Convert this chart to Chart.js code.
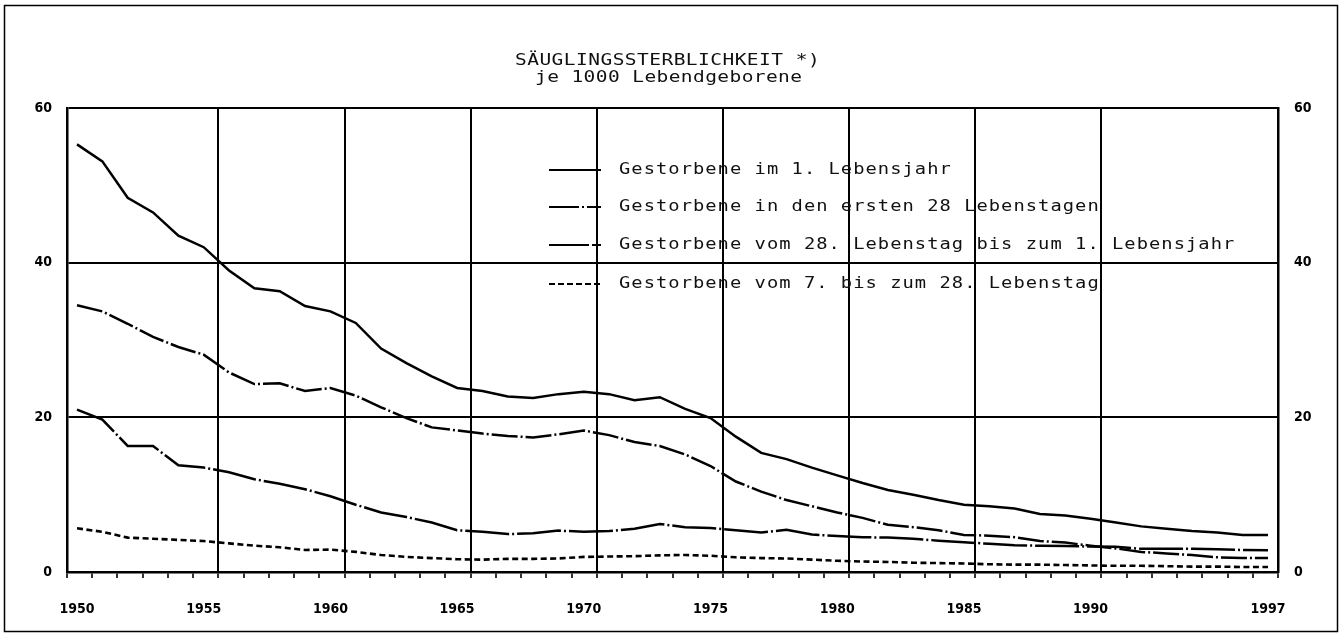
<!DOCTYPE html>
<html>
<head>
<meta charset="utf-8">
<script src="https://cdn.jsdelivr.net/npm/chart.js@4.4.1/dist/chart.umd.min.js"></script>
<style>
html,body{margin:0;padding:0;background:#fff;}
#wrap{width:1342px;height:640px;}
</style>
</head>
<body>
<div id="wrap"><canvas id="c" width="1342" height="640"></canvas></div>
<script>
// ---------- DATA ----------
const titleLines = ["SÄUGLINGSSTERBLICHKEIT *)", "je 1000 Lebendgeborene"];

const years = [1950,1951,1952,1953,1954,1955,1956,1957,1958,1959,
               1960,1961,1962,1963,1964,1965,1966,1967,1968,1969,
               1970,1971,1972,1973,1974,1975,1976,1977,1978,1979,
               1980,1981,1982,1983,1984,1985,1986,1987,1988,1989,
               1990,1991,1992,1993,1994,1995,1996,1997];

const seriesLabels = [
  "Gestorbene im 1. Lebensjahr",
  "Gestorbene in den ersten 28 Lebenstagen",
  "Gestorbene vom 28. Lebenstag bis zum 1. Lebensjahr",
  "Gestorbene vom 7. bis zum 28. Lebenstag"
];

// Gestorbene im 1. Lebensjahr
const firstYear = [55.3,53.1,48.4,46.5,43.5,42.0,39.0,36.7,36.3,34.4,
                   33.7,32.2,28.9,27.0,25.3,23.8,23.4,22.7,22.5,23.0,
                   23.3,23.0,22.2,22.6,21.1,19.9,17.5,15.4,14.6,13.5,
                   12.5,11.5,10.6,10.0,9.3,8.7,8.5,8.2,7.5,7.3,
                   6.9,6.4,5.9,5.6,5.3,5.1,4.8,4.8];

// Gestorbene in den ersten 28 Lebenstagen
const first28Days = [34.5,33.7,32.1,30.4,29.1,28.1,25.8,24.3,24.4,23.4,
                     23.8,22.8,21.3,19.9,18.7,18.3,17.9,17.6,17.4,17.8,
                     18.3,17.7,16.8,16.3,15.2,13.7,11.7,10.4,9.3,8.5,
                     7.7,7.0,6.1,5.8,5.4,4.8,4.7,4.5,4.0,3.8,
                     3.4,3.05,2.6,2.4,2.2,1.9,1.8,1.8];

// Gestorbene vom 28. Lebenstag bis zum 1. Lebensjahr
const day28ToYear = [21.0,19.7,16.3,16.3,13.8,13.5,12.9,12.0,11.4,10.7,
                     9.8,8.7,7.7,7.1,6.4,5.4,5.2,4.9,5.0,5.35,
                     5.2,5.3,5.6,6.2,5.8,5.7,5.4,5.1,5.45,4.85,
                     4.65,4.5,4.45,4.3,4.05,3.85,3.65,3.45,3.4,3.35,
                     3.3,3.25,3.0,3.0,3.0,2.95,2.85,2.8];

// Gestorbene vom 7. bis zum 28. Lebenstag
const day7To28 = [5.65,5.2,4.45,4.3,4.15,4.0,3.7,3.4,3.2,2.85,
                  2.9,2.6,2.2,1.95,1.8,1.65,1.6,1.7,1.7,1.75,
                  1.95,2.0,2.05,2.15,2.2,2.1,1.9,1.8,1.75,1.6,
                  1.45,1.35,1.3,1.2,1.15,1.1,1.0,0.95,0.95,0.9,
                  0.85,0.8,0.8,0.75,0.7,0.7,0.65,0.65];

const xLabelYears = [1950,1955,1960,1965,1970,1975,1980,1985,1990,1997];
const yTickValues = [0,20,40,60];

// ---------- CHART ----------
const X_MIN = 1949.605, X_MAX = 1997.395, N_INT = 48;
const majorIdx = [6,11,16,21,26,31,36,41];
const tickFont = {family:"'Liberation Sans Narrow','DejaVu Sans Condensed','Arial Narrow',sans-serif", size:14, weight:'bold'};
const textFont = "'DejaVu Sans Mono', monospace";

function pts(arr){ return years.map((y,i)=>({x:y, y:arr[i]})); }

const dashStyles = [[], [26,3,2,3], [44,3,2,3], [6,3.5]];
const legendDash = [[], [30,3,2,3], [40,3], [6,3]];
const seriesData = [firstYear, first28Days, day28ToYear, day7To28];

const datasets = seriesData.map((arr,i)=>({
  label: seriesLabels[i],
  data: pts(arr),
  borderColor:'#000',
  borderWidth: i===3 ? 2.6 : 2.5,
  borderDash: dashStyles[i],
  pointRadius:0,
  tension:0,
  fill:false,
  xAxisID:'x',
  yAxisID:'y'
}));

function spacedText(ctx, text, x, y, size, advance, sx){
  // draw monospace text horizontally widened by sx, with given advance per char
  ctx.save();
  ctx.scale(sx, 1);
  ctx.font = size + 'px ' + textFont;
  const natural = ctx.measureText('M').width;
  const sp = advance / sx - natural;
  if ('letterSpacing' in ctx) {
    ctx.letterSpacing = sp.toFixed(2) + 'px';
    ctx.fillText(text, x / sx, y);
  } else {
    let cx = x / sx;
    for (const ch of text) { ctx.fillText(ch, cx, y); cx += advance / sx; }
  }
  ctx.restore();
}

const decor = {
  id:'decor',
  afterDraw(chart){
    const ctx = chart.ctx;
    ctx.save();
    // outer frame
    ctx.strokeStyle = '#000';
    ctx.lineWidth = 1.5;
    ctx.strokeRect(4.5, 5.5, 1333, 626);
    // title
    ctx.fillStyle = '#111';
    ctx.textAlign = 'left';
    ctx.textBaseline = 'alphabetic';
    spacedText(ctx, titleLines[0], 515, 65, 16, 12.2, 1.22);
    spacedText(ctx, titleLines[1], 535, 82, 16, 12.15, 1.22);
    // legend
    ctx.textBaseline = 'middle';
    const rows = [170, 207, 245, 284];
    chart.data.datasets.forEach((ds,i)=>{
      const y = rows[i];
      ctx.beginPath();
      ctx.setLineDash(legendDash[i]);
      ctx.lineWidth = 2.2;
      ctx.strokeStyle = '#000';
      ctx.moveTo(549, y);
      ctx.lineTo(601, y);
      ctx.stroke();
      ctx.setLineDash([]);
      spacedText(ctx, ds.label, 619, y, 15, 12.33, 1.25);
    });
    ctx.restore();
  }
};

new Chart(document.getElementById('c'), {
  type:'line',
  data:{datasets},
  plugins:[decor],
  options:{
    responsive:false,
    animation:false,
    devicePixelRatio:1,
    layout:{padding:{top:108,left:0,right:0,bottom:0}},
    plugins:{legend:{display:false}, title:{display:false}, tooltip:{enabled:false}},
    scales:{
      x:{
        type:'linear', position:'bottom', min:X_MIN, max:X_MAX, bounds:'data', weight:0,
        afterBuildTicks(scale){
          const t=[];
          for(let k=0;k<=N_INT;k++) t.push({value: X_MIN + k*(X_MAX-X_MIN)/N_INT});
          scale.ticks = t;
        },
        afterFit(scale){ scale.height = 6; },
        ticks:{display:false},
        grid:{
          display:true, drawOnChartArea:true, drawTicks:true, tickLength:6,
          color:(c)=> majorIdx.includes(c.index) ? '#000' : 'rgba(0,0,0,0)',
          lineWidth:2,
          tickColor:'#000', tickWidth:1.6
        },
        border:{display:true, color:'#000', width:2.5}
      },
      xl:{
        type:'linear', position:'bottom', min:X_MIN, max:X_MAX, bounds:'data', weight:1,
        afterBuildTicks(scale){ scale.ticks = xLabelYears.map(v=>({value:v})); },
        afterFit(scale){ scale.height = 62; },
        ticks:{display:true, autoSkip:false, maxRotation:0, padding:23, color:'#000', font:tickFont,
               callback:(v)=>String(v)},
        grid:{display:false, drawTicks:false},
        border:{display:false}
      },
      y:{
        type:'linear', position:'left', min:0, max:60,
        afterBuildTicks(scale){ scale.ticks = yTickValues.map(v=>({value:v})); },
        afterFit(scale){ scale.width = 67; },
        ticks:{padding:15, color:'#000', font:tickFont},
        grid:{color:'#000', lineWidth:2, drawTicks:false},
        border:{display:true, color:'#000', width:2.5}
      },
      y2:{
        type:'linear', position:'right', min:0, max:60,
        afterBuildTicks(scale){ scale.ticks = yTickValues.map(v=>({value:v})); },
        afterFit(scale){ scale.width = 64; },
        ticks:{padding:16, color:'#000', font:tickFont},
        grid:{display:false, drawTicks:false},
        border:{display:true, color:'#000', width:2.5}
      }
    }
  }
});
</script>
</body>
</html>
